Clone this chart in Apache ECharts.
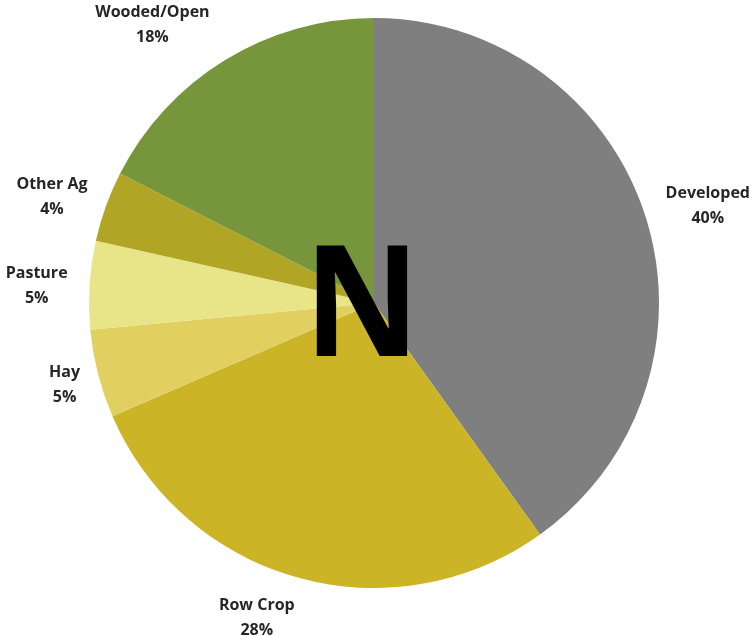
<!DOCTYPE html>
<html>
<head>
<meta charset="utf-8">
<script src="https://cdn.jsdelivr.net/npm/echarts@6/dist/echarts.min.js"></script>
<style>
html,body{margin:0;padding:0;background:#fff;}
#chart{width:751px;height:636px;}
</style>
</head>
<body>
<div id="chart"></div>
<script>
var categories = ['Developed', 'Row Crop', 'Hay', 'Pasture', 'Other Ag', 'Wooded/Open'];
var values = [40.1, 28.4, 5.0, 5.0, 4.0, 17.5];
var colors = ['#7f7f7f', '#cbb425', '#e1cf60', '#e7e588', '#b0a524', '#77963b'];
var centerLetter = 'N';

// label nudges (style only)
var labelNudge = [[12, 6], [-27, -11], [18, -2], [0, 4], [-4, 8], [-45, 10]];

var data = categories.map(function (c, i) {
  return { name: c, value: values[i], itemStyle: { color: colors[i] } };
});
var labelData = categories.map(function (c, i) {
  return { name: c, value: values[i], label: { offset: labelNudge[i] } };
});

var chart = echarts.init(document.getElementById('chart'), null, { renderer: 'canvas' });
chart.setOption({
  animation: false,
  backgroundColor: '#ffffff',
  series: [
    {
      type: 'pie',
      center: [374, 303],
      radius: [0, 285],
      startAngle: 90,
      clockwise: true,
      silent: true,
      z: 2,
      label: { show: false },
      labelLine: { show: false },
      itemStyle: { borderWidth: 0 },
      data: data
    },
    {
      type: 'pie',
      center: [374, 303],
      radius: [285, 385],
      startAngle: 90,
      clockwise: true,
      silent: true,
      z: 2,
      itemStyle: { color: 'rgba(0,0,0,0)', borderWidth: 0 },
      label: {
        show: true,
        position: 'inside',
        rotate: 0,
        align: 'center',
        fontFamily: 'Open Sans',
        fontWeight: 'bold',
        fontSize: 16,
        lineHeight: 25,
        color: '#262626',
        formatter: function (p) { return p.name + '\n' + Math.round(p.percent + 1e-6) + '%'; }
      },
      labelLine: { show: false },
      data: labelData
    }
  ],
  graphic: {
    elements: [
      {
        type: 'text',
        z: 100,
        zlevel: 1,
        x: 362,
        y: 312,
        scaleX: 0.92,
        style: {
          text: centerLetter,
          fontFamily: 'Open Sans',
          fontWeight: 'bold',
          fontSize: 155,
          fill: '#000000',
          align: 'center',
          verticalAlign: 'middle'
        }
      }
    ]
  }
});
</script>
</body>
</html>
